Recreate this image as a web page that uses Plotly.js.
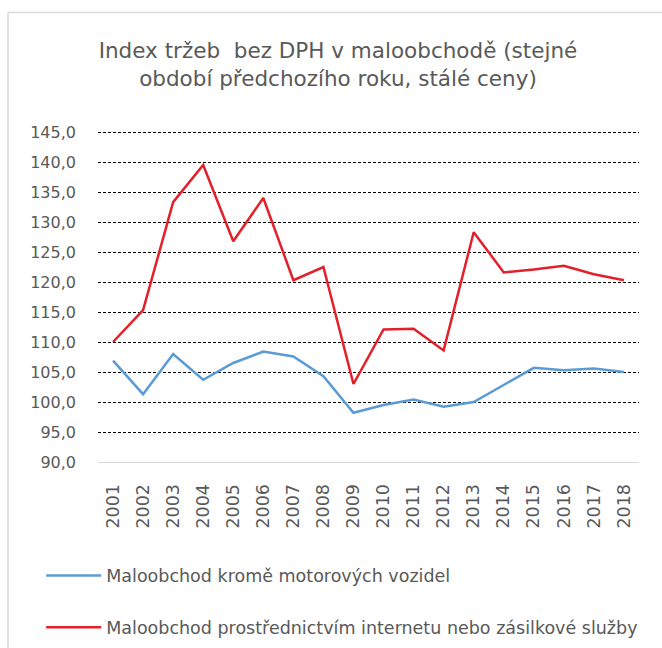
<!DOCTYPE html>
<html>
<head>
<meta charset="utf-8">
<script src="https://cdn.plot.ly/plotly-3.0.1.min.js"></script>
<style>
  html, body { margin: 0; padding: 0; background: #fff; }
  #chart { width: 662px; height: 648px; }
</style>
</head>
<body>
<div id="chart"></div>
<script>
const years = ["2001","2002","2003","2004","2005","2006","2007","2008","2009","2010","2011","2012","2013","2014","2015","2016","2017","2018"];
const retailExclMotor = [106.9,101.3,108.0,103.7,106.5,108.4,107.6,104.3,98.2,99.5,100.4,99.2,100.0,102.9,105.7,105.3,105.6,105.0];
const retailInternet = [110.0,115.3,133.3,139.5,126.8,134.0,120.3,122.5,103.0,112.1,112.2,108.6,128.3,121.6,122.1,122.7,121.3,120.3];
const seriesNames = ["Maloobchod kromě motorových vozidel","Maloobchod prostřednictvím internetu nebo zásilkové služby"];
const yTicks = [90,95,100,105,110,115,120,125,130,135,140,145];
const titleText = "Index tržeb  bez DPH v maloobchodě (stejné<br>období předchozího roku, stálé ceny)";

const font = "DejaVu Sans, Liberation Sans, sans-serif";
const textColor = "#595959";

const traces = [
  {x: years, y: retailExclMotor, name: seriesNames[0], type: "scatter", mode: "lines",
   line: {color: "#5B9BD5", width: 2.5}, legendgroup: "a"},
  {x: years, y: retailInternet, name: seriesNames[1], type: "scatter", mode: "lines",
   line: {color: "#E3202A", width: 2.5}, legendgroup: "b"}
];

const layout = {
  width: 662, height: 648,
  margin: {l: 98, r: 23, t: 129, b: 186, autoexpand: false},
  paper_bgcolor: "#fff", plot_bgcolor: "#fff",
  separators: ",.",
  font: {family: font, color: textColor},
  title: {text: titleText, font: {family: font, size: 21.5, color: textColor},
          xref: "paper", x: 0.4436, xanchor: "center", yref: "container", y: 0.910, yanchor: "top"},
  xaxis: {type: "category", range: [-0.5, 17.5], tickangle: -90, tickfont: {size: 17.5, color: textColor},
          showgrid: false, showline: true, linecolor: "#D9D9D9", linewidth: 1,
          ticks: "", ticklabelstandoff: 14, automargin: false, fixedrange: true},
  yaxis: {range: [90, 145.5], tickvals: yTicks, tickformat: ".1f",
          tickfont: {size: 16, color: textColor},
          showgrid: true, gridcolor: "#000", gridwidth: 1, griddash: "3px,2px",
          zeroline: false, showline: false, ticks: "", ticklabelstandoff: 21, automargin: false, fixedrange: true},
  showlegend: true,
  legend: {orientation: "v", x: -0.105, xanchor: "left", y: -0.287, yanchor: "top",
           font: {size: 17.5, color: textColor}, bgcolor: "rgba(0,0,0,0)",
           traceorder: "grouped", tracegroupgap: 26, itemwidth: 55},
  shapes: [
    {type: "line", xref: "paper", yref: "paper", x0: (8-98)/541, x1: (700-98)/541, y0: (462-12.5)/333, y1: (462-12.5)/333,
     line: {color: "#D9D9D9", width: 1.5}},
    {type: "line", xref: "paper", yref: "paper", x0: (8-98)/541, x1: (8-98)/541, y0: (462-12.5)/333, y1: (462-700)/333,
     line: {color: "#D9D9D9", width: 1.5}}
  ]
};

Plotly.newPlot("chart", traces, layout, {displayModeBar: false, staticPlot: true});
</script>
</body>
</html>
